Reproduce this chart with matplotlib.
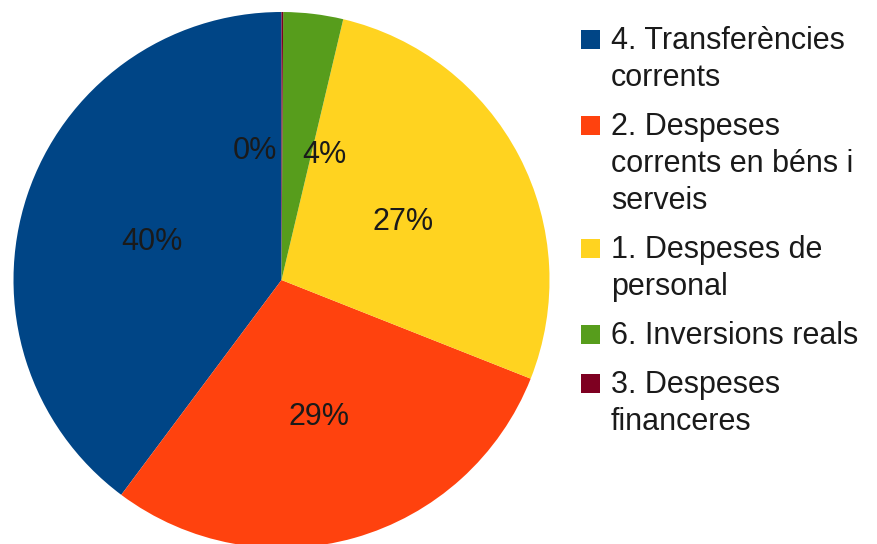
import matplotlib
matplotlib.use("Agg")
import matplotlib.pyplot as plt
from matplotlib.patches import Rectangle

plt.rcParams['font.family'] = ['Liberation Sans', 'DejaVu Sans']

categories = ["4. Transferències\ncorrents",
              "2. Despeses\ncorrents en béns i\nserveis",
              "1. Despeses de\npersonal",
              "6. Inversions reals",
              "3. Despeses\nfinanceres"]
values = [39.8, 29.2, 27.3, 3.6, 0.1]
colors = ["#004586", "#ff420e", "#ffd320", "#579d1c", "#7e0021"]

W, H = 878, 544
FS = 22
TXT = "#1a1a1a"
fig = plt.figure(figsize=(W / 100, H / 100), dpi=100)
cx, cy, r = 281.5, 280, 268
ax = fig.add_axes([(cx - r) / W, (H - cy - r) / H, 2 * r / W, 2 * r / H])
wedges, texts, autotexts = ax.pie(values, colors=colors, startangle=90, counterclock=True,
                                  autopct=lambda p: "%d%%" % round(p), pctdistance=0.51,
                                  wedgeprops=dict(linewidth=0),
                                  textprops=dict(fontsize=FS, color=TXT))
ax.set_xlim(-1, 1)
ax.set_ylim(-1, 1)
ax.set_aspect('equal')
ax.axis('off')

for t in autotexts:
    x, y = t.get_position()
    t.set_position((x, y - 0.02))
# nudge the two crowded small-slice labels apart
x, y = autotexts[3].get_position()
autotexts[3].set_position((x + 0.1, y - 0.02))
x, y = autotexts[4].get_position()
autotexts[4].set_position((x - 0.1, y - 0.01))

# legend built manually so the square aligns with the first line of each entry
def fx(px):
    return px / W

def fy(py):
    return 1 - py / H

base = 49
line_pitch = 37
item_pitch = 49
box_x, box_size, text_x = 581, 19, 611
for label, col in zip(categories, colors):
    lines = label.split("\n")
    fig.add_artist(Rectangle((fx(box_x), fy(base)), box_size / W, box_size / H,
                             transform=fig.transFigure, facecolor=col, edgecolor='none'))
    for i, ln in enumerate(lines):
        fig.text(fx(text_x), fy(base + i * line_pitch), ln, fontsize=FS, color=TXT,
                 va='baseline', ha='left')
    base += item_pitch + (len(lines) - 1) * line_pitch

fig.savefig("out.png", dpi=100)
